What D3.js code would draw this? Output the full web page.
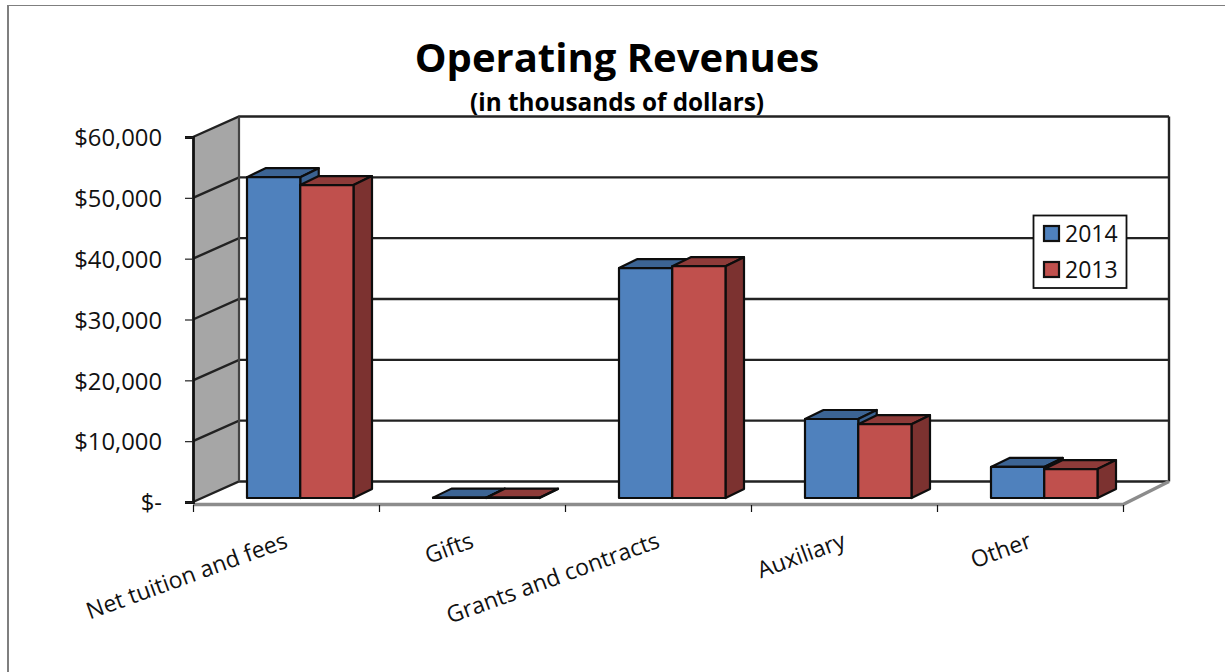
<!DOCTYPE html>
<html>
<head>
<meta charset="utf-8">
<title>Operating Revenues</title>
<script src="https://d3js.org/d3.v7.min.js"></script>
<style>
  html, body { margin: 0; padding: 0; background: #fff; }
  svg { display: block; font-family: "Open Sans", Lato, sans-serif; }
</style>
</head>
<body>
<svg id="chart" width="1225" height="672"></svg>
<script>
// Revenue by source, in thousands of dollars
const categories = ["Net tuition and fees", "Gifts", "Grants and contracts", "Auxiliary", "Other"];
const seriesNames = ["2014", "2013"];
const values2014 = [52600, 60, 37700, 12950, 5100];
const values2013 = [51300, 50, 38000, 12100, 4750];
const yTicks = [0, 10000, 20000, 30000, 40000, 50000, 60000];

const fills = {
  "2014": { front: "#4f81bd", top: "#3c6494", side: "#3a6291" },
  "2013": { front: "#c0504d", top: "#8e3b39", side: "#7c3230" }
};

// Layout of the pseudo-3D box
const frontLeft = 193, frontRight = 1123, frontBase = 502, frontTop = 137;
const wallDx = 46, wallDy = -20.5;
const barBase = 498, barDx = 18.5, barDy = -9;

const svg = d3.select("#chart");

const yFront = d3.scaleLinear().domain([0, 60000]).range([frontBase, frontTop]);
const yBar = d3.scaleLinear().domain([0, 60000]).range([barBase, barBase - 366]);
const xCat = d3.scaleBand().domain(categories).range([frontLeft, frontRight]);
const xBar = d3.scaleBand().domain(seriesNames).range([54, 54 + 106.5]);
const xEdges = d3.scaleLinear().domain([0, categories.length]).range([frontLeft, frontRight]);

// Page frame
svg.append("path")
  .attr("d", "M8,672V5.5H1225")
  .attr("fill", "none").attr("stroke", "#7f7f7f").attr("stroke-width", 1);
svg.append("line")
  .attr("x1", 8).attr("x2", 8).attr("y1", 5).attr("y2", 672)
  .attr("stroke", "#7f7f7f").attr("stroke-width", 2);

// Side wall and floor
const points = a => a.map(p => p.join(",")).join(" ");
svg.append("polygon")
  .attr("points", points([
    [frontLeft, frontTop], [frontLeft + wallDx, frontTop + wallDy],
    [frontLeft + wallDx, frontBase + wallDy], [frontLeft, frontBase]
  ]))
  .attr("fill", "#a6a6a6");

// Gridlines run along the back wall and fold down the side wall
const grid = svg.append("g");
grid.selectAll("path.grid").data(yTicks).join("path")
  .attr("class", "grid")
  .attr("d", d => {
    const y = yFront(d);
    return `M${frontLeft},${y}L${frontLeft + wallDx},${y + wallDy}H${frontRight + wallDx}`;
  })
  .attr("fill", "none")
  .attr("stroke", "#222")
  .attr("stroke-width", 2.4);
grid.append("line")
  .attr("x1", frontLeft + wallDx).attr("x2", frontLeft + wallDx)
  .attr("y1", frontTop + wallDy).attr("y2", frontBase + wallDy)
  .attr("stroke", "#444").attr("stroke-width", 2.2);
grid.append("line")
  .attr("x1", frontRight + wallDx).attr("x2", frontRight + wallDx)
  .attr("y1", frontTop + wallDy).attr("y2", frontBase + wallDy)
  .attr("stroke", "#222").attr("stroke-width", 2.4);

// Grey front and right edges of the floor
svg.append("path")
  .attr("d", `M${frontLeft},${frontBase + 2.5}H${frontRight}L${frontRight + wallDx},${frontBase + wallDy}`)
  .attr("fill", "none").attr("stroke", "#8c8c8c").attr("stroke-width", 3.4);

// Bars, each as a top, a side and a front face
const rows = categories.flatMap((c, i) => [
  { category: c, series: "2014", value: values2014[i] },
  { category: c, series: "2013", value: values2013[i] }
]);
const bar = svg.append("g").selectAll("g").data(rows).join("g")
  .attr("stroke", "#0d0d0d").attr("stroke-width", 2.2).attr("stroke-linejoin", "round");

const x0 = d => xCat(d.category) + xBar(d.series);
const x1 = d => x0(d) + xBar.bandwidth();

bar.append("polygon").attr("fill", d => fills[d.series].top)
  .attr("points", d => points([
    [x0(d), yBar(d.value)], [x0(d) + barDx, yBar(d.value) + barDy],
    [x1(d) + barDx, yBar(d.value) + barDy], [x1(d), yBar(d.value)]
  ]));
bar.append("polygon").attr("fill", d => fills[d.series].side)
  .attr("points", d => points([
    [x1(d), yBar(d.value)], [x1(d) + barDx, yBar(d.value) + barDy],
    [x1(d) + barDx, yBar(0) + barDy], [x1(d), yBar(0)]
  ]));
bar.append("rect").attr("fill", d => fills[d.series].front)
  .attr("x", x0).attr("width", xBar.bandwidth())
  .attr("y", d => yBar(d.value)).attr("height", d => yBar(0) - yBar(d.value));

// Value axis
const formatTick = v => v === 0 ? "$-" : "$" + d3.format(",")(v);
const yAxis = svg.append("g").attr("transform", `translate(${frontLeft},0)`)
  .call(d3.axisLeft(yFront).tickValues(yTicks).tickSize(8).tickPadding(23).tickFormat(formatTick));
yAxis.select(".domain").attr("stroke", "#111").attr("stroke-width", 2.8);
yAxis.selectAll(".tick line").attr("stroke", "#222").attr("stroke-width", 1.2);
yAxis.selectAll("text")
  .attr("font-family", "'Open Sans', sans-serif").attr("font-size", 23.8).attr("fill", "#111")
  .attr("dy", "0.37em");

// Category axis ticks and slanted labels
const xAxis = svg.append("g").attr("transform", `translate(0,${frontBase + 3})`)
  .call(d3.axisBottom(xEdges).ticks(categories.length).tickSize(7).tickFormat(""));
xAxis.select(".domain").remove();
xAxis.selectAll(".tick line").attr("stroke", "#111").attr("stroke-width", 1.2);

svg.append("g").selectAll("text").data(categories).join("text")
  .attr("text-anchor", "end")
  .attr("font-size", 23).attr("fill", "#111")
  .attr("transform", d => `translate(${xCat(d) + xCat.bandwidth() / 2 + 3},547) rotate(-20)`)
  .text(d => d);

// Titles
svg.append("text").attr("x", 617).attr("y", 72).attr("text-anchor", "middle")
  .attr("font-size", 40).attr("font-weight", 700).attr("fill", "#000")
  .text("Operating Revenues");
svg.append("text").attr("x", 617).attr("y", 111).attr("text-anchor", "middle")
  .attr("font-size", 24.3).attr("font-weight", 700).attr("fill", "#000")
  .text("(in thousands of dollars)");

// Legend
const legend = svg.append("g");
legend.append("rect")
  .attr("x", 1033.5).attr("y", 215.5).attr("width", 93).attr("height", 72.5)
  .attr("fill", "#fff").attr("stroke", "#111").attr("stroke-width", 1.8);
const item = legend.selectAll("g").data(seriesNames).join("g")
  .attr("transform", (d, i) => `translate(1044,${226 + i * 36})`);
item.append("rect").attr("width", 15).attr("height", 15)
  .attr("fill", d => fills[d].front).attr("stroke", "#111").attr("stroke-width", 2.2);
item.append("text").attr("x", 21).attr("y", 16)
  .attr("font-size", 23).attr("fill", "#111").text(d => d);
</script>
</body>
</html>
